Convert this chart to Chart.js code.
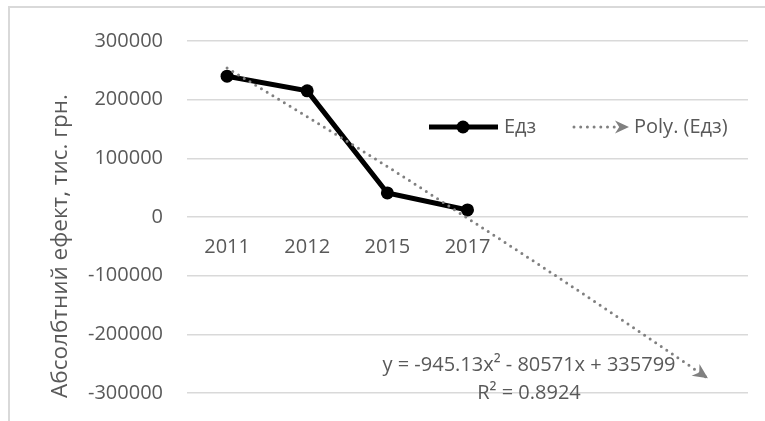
<!DOCTYPE html>
<html>
<head>
<meta charset="utf-8">
<script src="https://cdn.jsdelivr.net/npm/chart.js@4"></script>
<style>
    html, body { margin: 0; padding: 0; background: #fff; overflow: hidden; }
    #wrap { position: relative; width: 765px; height: 421px; }
    #frame { position: absolute; left: 8px; top: 6px; width: 800px; height: 500px; border: 2px solid #d9d9d9; }
    #efektChart { position: absolute; left: 0; top: 0; }
</style>
</head>
<body>
<div id="wrap">
    <div id="frame"></div>
    <canvas id="efektChart" width="765" height="421"></canvas>
</div>
<script>
// categories (3 empty slots = forward forecast of the trendline)
const roky = ["2011", "2012", "2015", "2017", "", "", ""];
const edz = [240000, 215000, 41000, 12000, null, null, null];
// trendline values
const trend = [254000, 171000, 86000, -2000, -91000, -182000, -275000];
const yMin = -300000;
const yMax = 300000;
const yStep = 100000;
const nazvaOsi = "Абсолбтний ефект, тис. грн.";
const nazvaSerii = "Едз";
const nazvaTrendu = "Poly. (Едз)";
const rivnyannya = "y = -945.13x² - 80571x + 335799";
const r2 = "R² = 0.8924";

const SIRYI = "#595959";
const TREND = "#808080";
const SHRYFT = "'Open Sans', sans-serif";

Chart.defaults.font.family = SHRYFT;
Chart.defaults.font.size = 20;
Chart.defaults.color = SIRYI;

function strilka(ctx, x, y, ang, dov, shyr) {
    ctx.save();
    ctx.translate(x, y);
    ctx.rotate(ang);
    ctx.beginPath();
    ctx.moveTo(0, 0);
    ctx.lineTo(-dov, -shyr);
    ctx.lineTo(-dov * 0.7, 0);
    ctx.lineTo(-dov, shyr);
    ctx.closePath();
    ctx.fillStyle = TREND;
    ctx.fill();
    ctx.restore();
}

const dodatky = {
    id: "dodatky",
    afterDatasetsDraw(chart) {
        const ctx = chart.ctx;
        // arrow at the end of the trendline
        const meta = chart.getDatasetMeta(1).data;
        const a = meta[meta.length - 2], b = meta[meta.length - 1];
        strilka(ctx, b.x, b.y, Math.atan2(b.y - a.y, b.x - a.x), 15, 7);

        ctx.save();
        ctx.font = "20px " + SHRYFT;
        ctx.fillStyle = SIRYI;
        ctx.textBaseline = "middle";

        // equation + R²
        ctx.textAlign = "center";
        ctx.fillText(rivnyannya, 529, 365);
        ctx.fillText(r2, 529, 393);

        // axis title
        ctx.save();
        ctx.font = "22.5px " + SHRYFT;
        ctx.translate(61, 246);
        ctx.rotate(-Math.PI / 2);
        ctx.fillText(nazvaOsi, 0, 0);
        ctx.restore();

        // legend
        const ly = 127;
        ctx.strokeStyle = "#000";
        ctx.lineWidth = 5;
        ctx.beginPath();
        ctx.moveTo(429, ly);
        ctx.lineTo(498, ly);
        ctx.stroke();
        ctx.fillStyle = "#000";
        ctx.beginPath();
        ctx.arc(463, ly, 6.5, 0, Math.PI * 2);
        ctx.fill();
        ctx.fillStyle = SIRYI;
        ctx.textAlign = "left";
        ctx.fillText(nazvaSerii, 504, ly);

        ctx.strokeStyle = TREND;
        ctx.lineWidth = 3;
        ctx.lineCap = "round";
        ctx.setLineDash([0, 6.7]);
        ctx.beginPath();
        ctx.moveTo(574, ly);
        ctx.lineTo(618, ly);
        ctx.stroke();
        ctx.setLineDash([]);
        strilka(ctx, 629, ly, 0, 14, 6.5);
        ctx.fillStyle = SIRYI;
        ctx.fillText(nazvaTrendu, 634, ly);
        ctx.restore();
    }
};

const ctx = document.getElementById("efektChart").getContext("2d");
new Chart(ctx, {
    type: "line",
    data: {
        labels: roky,
        datasets: [
            {
                label: nazvaSerii,
                data: edz,
                borderColor: "#000",
                backgroundColor: "#000",
                borderWidth: 5,
                pointRadius: 6.5,
                pointBorderWidth: 0,
                pointBackgroundColor: "#000",
                fill: false,
                order: 1
            },
            {
                label: nazvaTrendu,
                data: trend,
                borderColor: TREND,
                borderWidth: 3,
                borderDash: [0, 6.7],
                borderCapStyle: "round",
                pointRadius: 0,
                cubicInterpolationMode: "monotone",
                fill: false,
                order: 0
            }
        ]
    },
    options: {
        responsive: false,
        animation: false,
        layout: { padding: { left: 0, top: 41, right: 17, bottom: 28 } },
        plugins: {
            legend: { display: false },
            tooltip: { enabled: false }
        },
        scales: {
            x: {
                type: "category",
                position: { y: 0 },
                offset: true,
                grid: { display: false, drawTicks: false },
                border: { display: false },
                ticks: { padding: 18, maxRotation: 0, autoSkip: false, color: SIRYI },
                afterFit(scale) { scale.height = 0; }
            },
            y: {
                min: yMin,
                max: yMax,
                ticks: {
                    stepSize: yStep,
                    padding: 0,
                    color: SIRYI,
                    callback: v => String(v)
                },
                // invisible tick marks keep the labels 24px away from the plot
                grid: { color: "#d9d9d9", lineWidth: 1.5, drawTicks: true, tickLength: 24, tickColor: "rgba(0,0,0,0)" },
                border: { display: false },
                afterFit(scale) { scale.width = 187; }
            }
        }
    },
    plugins: [dodatky]
});
</script>
</body>
</html>
